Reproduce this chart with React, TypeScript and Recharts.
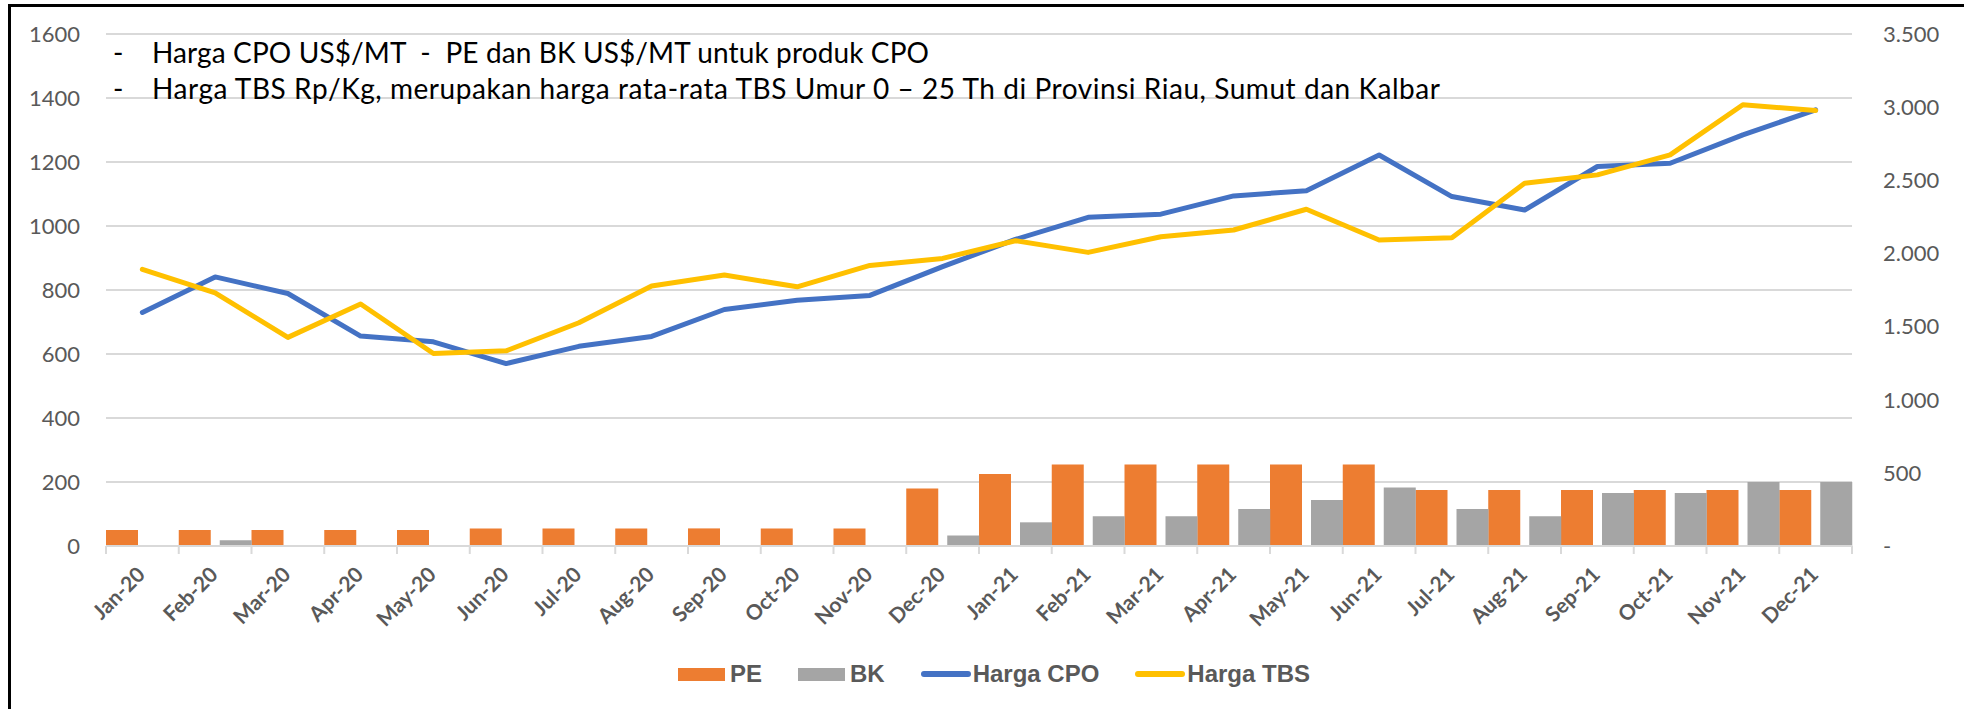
import React from 'react';
import { ComposedChart, Bar, Line, XAxis, YAxis, CartesianGrid, Legend } from 'recharts';

// monthly categories
const months = [
  'Jan-20', 'Feb-20', 'Mar-20', 'Apr-20', 'May-20', 'Jun-20', 'Jul-20', 'Aug-20', 'Sep-20', 'Oct-20', 'Nov-20', 'Dec-20',
  'Jan-21', 'Feb-21', 'Mar-21', 'Apr-21', 'May-21', 'Jun-21', 'Jul-21', 'Aug-21', 'Sep-21', 'Oct-21', 'Nov-21', 'Dec-21',
];

// PE and BK in US$/MT (null = empty cell)
const pe = [50, 50, 50, 50, 50, 55, 55, 55, 55, 55, 55, 180, 225, 255, 255, 255, 255, 255, 175, 175, 175, 175, 175, 175];
const bk = [null, 18, 0, null, null, null, null, null, null, 0, 0, 33, 74, 93, 93, 116, 144, 183, 116, 93, 166, 166, 200, 200];

// Harga CPO US$/MT (left axis), Harga TBS Rp/Kg (right axis)
const hargaCpo = [730, 841, 789, 656, 638, 570, 624, 655, 739, 768, 783, 873, 958, 1027, 1037, 1094, 1110, 1222, 1092, 1050, 1186, 1196, 1285, 1363];
const hargaTbs = [1891, 1731, 1426, 1654, 1316, 1334, 1526, 1777, 1852, 1772, 1918, 1966, 2087, 2007, 2114, 2160, 2302, 2092, 2108, 2480, 2537, 2674, 3016, 2977];

const leftTicks = [0, 200, 400, 600, 800, 1000, 1200, 1400, 1600];
const rightTicks = [0, 500, 1000, 1500, 2000, 2500, 3000, 3500];

const notes = [
  'Harga CPO US$/MT  -  PE dan BK US$/MT untuk produk CPO',
  'Harga TBS Rp/Kg, merupakan harga rata-rata TBS Umur 0 \u2013 25 Th di Provinsi Riau, Sumut dan Kalbar',
];

const COLORS = { pe: '#ED7D31', bk: '#A5A5A5', cpo: '#4472C4', tbs: '#FFC000' };
const AXIS_TEXT = '#595959';
const GRID = '#D9D9D9';

const data = months.map((m, i) => ({ month: m, pe: pe[i], bk: bk[i], cpo: hargaCpo[i], tbs: hargaTbs[i] }));

// Indonesian thousands separator, zero shown as a dash
const fmtRight = (v: number) => (v === 0 ? '-' : String(v).replace(/\B(?=(\d{3})+(?!\d))/g, '.'));

const MonthTick = (props: any) => {
  const { x, y, payload, index } = props;
  const half = payload?.offset || 36.4;
  const ax = x + 4;
  const ay = y + 30;
  return (
    <g>
      <line x1={x - half} x2={x - half} y1={y} y2={y + 8} stroke={GRID} strokeWidth={2} />
      {index === months.length - 1 && (
        <line x1={x + half} x2={x + half} y1={y} y2={y + 8} stroke={GRID} strokeWidth={2} />
      )}
      <text
        x={ax}
        y={ay}
        textAnchor="end"
        transform={`rotate(-45, ${ax}, ${ay})`}
        fill={AXIS_TEXT}
        fontFamily="Lato"
        fontWeight={700}
        fontSize={21}
      >
        {payload.value}
      </text>
    </g>
  );
};

const legendItems = [
  { label: 'PE', color: COLORS.pe, kind: 'bar' },
  { label: 'BK', color: COLORS.bk, kind: 'bar' },
  { label: 'Harga CPO', color: COLORS.cpo, kind: 'line' },
  { label: 'Harga TBS', color: COLORS.tbs, kind: 'line' },
];

const LegendContent = () => (
  <div
    style={{
      display: 'flex',
      justifyContent: 'center',
      alignItems: 'center',
      height: 30,
      paddingLeft: 24,
      fontFamily: '"Liberation Sans", Arial, sans-serif',
      fontWeight: 700,
      fontSize: 24,
      color: AXIS_TEXT,
    }}
  >
    {legendItems.map((it, i) => (
      <div key={it.label} style={{ display: 'flex', alignItems: 'center', marginLeft: i === 0 ? 0 : 36 }}>
        {it.kind === 'bar' ? (
          <div style={{ width: 47, height: 13, background: it.color, marginRight: 5 }} />
        ) : (
          <div style={{ width: 50, height: 6, borderRadius: 3, background: it.color, marginRight: 2 }} />
        )}
        <span>{it.label}</span>
      </div>
    ))}
  </div>
);

export default function App() {
  return (
    <div style={{ position: 'relative', width: 1964, height: 709, overflow: 'hidden', background: '#fff' }}>
      <style>{'body{margin:0}'}</style>
      <ComposedChart
        width={1964}
        height={709}
        data={data}
        margin={{ top: 34, right: 0, bottom: 20, left: 0 }}
        barCategoryGap={0}
        barGap={9}
      >
        <CartesianGrid yAxisId="left" vertical={false} stroke={GRID} strokeWidth={2} />
        <XAxis
          dataKey="month"
          interval={0}
          height={113}
          tickSize={0}
          tickMargin={0}
          tickLine={false}
          axisLine={{ stroke: GRID, strokeWidth: 2 }}
          tick={<MonthTick />}
        />
        <YAxis
          yAxisId="left"
          domain={[0, 1600]}
          ticks={leftTicks}
          width={106}
          axisLine={false}
          tickLine={false}
          tickSize={0}
          tickMargin={26}
          tick={{ fill: AXIS_TEXT, fontFamily: 'Lato', fontSize: 22 }}
        />
        <YAxis
          yAxisId="right"
          orientation="right"
          domain={[0, 3500]}
          ticks={rightTicks}
          tickFormatter={fmtRight}
          width={112}
          axisLine={false}
          tickLine={false}
          tickSize={0}
          tickMargin={31}
          tick={{ fill: AXIS_TEXT, fontFamily: 'Lato', fontSize: 22 }}
        />
        <Legend verticalAlign="bottom" height={30} content={<LegendContent />} />
        <Bar yAxisId="left" dataKey="pe" name="PE" fill={COLORS.pe} isAnimationActive={false} />
        <Bar
          yAxisId="left"
          dataKey="bk"
          name="BK"
          fill={COLORS.bk}
          minPointSize={(v: any) => (v === 0 ? 1 : 0)}
          isAnimationActive={false}
        />
        <Line
          yAxisId="left"
          type="linear"
          dataKey="cpo"
          name="Harga CPO"
          stroke={COLORS.cpo}
          strokeWidth={5}
          strokeLinejoin="round"
          strokeLinecap="round"
          dot={false}
          isAnimationActive={false}
        />
        <Line
          yAxisId="right"
          type="linear"
          dataKey="tbs"
          name="Harga TBS"
          stroke={COLORS.tbs}
          strokeWidth={5}
          strokeLinejoin="round"
          strokeLinecap="round"
          dot={false}
          isAnimationActive={false}
        />
      </ComposedChart>

      {/* notes written on the plot */}
      <svg width={1964} height={709} style={{ position: 'absolute', left: 0, top: 0, pointerEvents: 'none' }}>
        {notes.map((t, i) => (
          <g key={i} fontFamily="Lato" fontSize={28} fill="#000">
            <text x={113} y={63 + i * 36}>-</text>
            <text x={152} y={63 + i * 36} textLength={i === 0 ? 777 : 1288} lengthAdjust="spacing" style={{ whiteSpace: 'pre' }}>
              {t}
            </text>
          </g>
        ))}
      </svg>

      {/* outer frame */}
      <div
        style={{
          position: 'absolute',
          left: 8,
          top: 4,
          width: 1964,
          height: 720,
          border: '3px solid #000',
          boxSizing: 'border-box',
          pointerEvents: 'none',
        }}
      />
    </div>
  );
}
